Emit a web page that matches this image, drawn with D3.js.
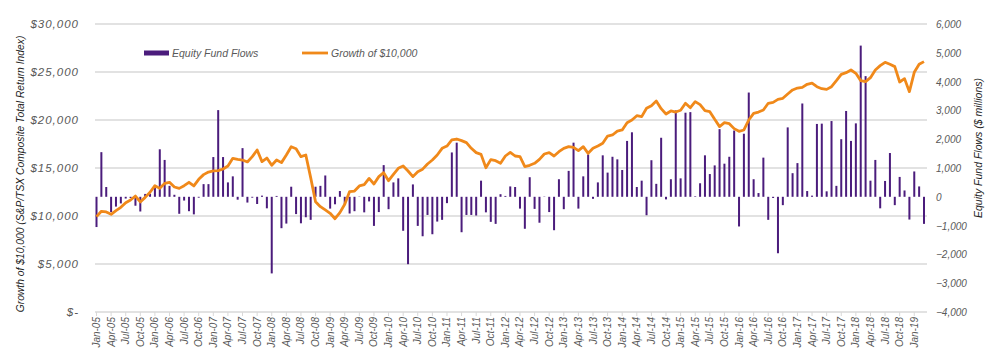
<!DOCTYPE html>
<html>
<head>
<meta charset="utf-8">
<script src="https://cdn.jsdelivr.net/npm/d3@7"></script>
<style>
	body { margin: 0; background: #fff; }
	svg { display: block; font-family: "Liberation Sans", Arial, sans-serif; }
	.grid line { stroke: #d9d9d9; stroke-width: 1.5; }
	.lbl { fill: #595959; font-style: italic; }
</style>
</head>
<body>
<div id="chart"></div>
<script>
// monthly equity fund flows, $ millions (Jan-05 .. Mar-19)
var flows = [
	-1050, 1550, 340, -530, -340, -230, -60, -40, -310, -510, 100, 100,
	320, 1650, 1280, 380, 70, -590, -130, -500, -610, -30, 440, 440,
	1380, 3010, 1380, 500, 710, -100, 1690, -200, -30, -250, 40, -400,
	-2660, 30, -1090, -930, 350, -600, -920, -710, -800, 350, 380, 740,
	-410, -260, 200, -260, -580, -500, 10, -540, -160, -1010, -530, 1100,
	-430, 500, 640, -1180, -2340, 430, -1010, -1370, -630, -1300, -860, -800,
	-220, 1540, 1880, -1230, -630, -630, -650, 560, -540, -870, -940, 90,
	30, 360, 340, -410, -1110, 680, -420, -900, 10, -530, -1160, 610,
	-430, 900, 1880, -410, 710, 1470, -70, 500, 1440, 840, 1390, 1300,
	930, 1940, 2240, 340, 560, -640, 1270, 450, 2050, -90, 610, 3000,
	640, 2920, 2940, 20, 470, 1440, 790, 1090, 2350, 1150, 1390, 2300,
	-1030, 2190, 3620, 610, 130, 1360, -800, -40, -1960, -290, 2410, 820,
	1170, 3240, 200, 40, 2530, 2540, 190, 2630, 380, 2000, 2980, 1940,
	2550, 5250, 4190, 560, 1280, -400, 550, 1520, -290, 690, 220, -790,
	880, 360, -940
];
// growth of $10,000 in S&P/TSX Composite TR
var growth = [
	9930, 10490, 10420, 10170, 10560, 10900, 11390, 11670, 12080, 11460, 11940, 12470,
	13160, 12880, 13400, 13510, 13020, 12880, 13160, 13510, 13130, 13820, 14310, 14580,
	14690, 14720, 14900, 15210, 16010, 15900, 15830, 15630, 16180, 16875, 15660, 16040,
	15280, 15830, 15560, 16350, 17220, 17010, 16180, 16350, 14000, 11490, 10970, 10630,
	10280, 9720, 10350, 11220, 12540, 12600, 13130, 13260, 13920, 13330, 14100, 14510,
	13680, 14340, 14970, 15210, 14690, 14100, 14620, 14880, 15420, 15830, 16350, 17050,
	17290, 17920, 18020, 17850, 17640, 17050, 16600, 16420, 15030, 15870, 15760, 15490,
	16250, 16630, 16250, 16180, 15140, 15280, 15490, 15900, 16460, 16600, 16250, 16700,
	17050, 17220, 17150, 16810, 17220, 16530, 17050, 17290, 17570, 18330, 18440, 18850,
	18960, 19720, 20000, 20450, 20350, 21220, 21490, 21980, 21180, 20630, 20940, 20830,
	21010, 21740, 21280, 21910, 21600, 20970, 20870, 20070, 19310, 19720, 19620, 19100,
	18820, 18960, 20000, 20690, 20830, 21040, 21740, 21840, 22150, 22260, 22710, 23130,
	23330, 23400, 23720, 23850, 23470, 23260, 23190, 23470, 24100, 24760, 24930, 25210,
	24860, 24100, 23990, 24410, 25210, 25660, 26010, 25800, 25560, 23960, 24310, 22950,
	24970, 25800, 26080
];
var leftTicks = [0, 5000, 10000, 15000, 20000, 25000, 30000];
var rightTicks = [-4000, -3000, -2000, -1000, 0, 1000, 2000, 3000, 4000, 5000, 6000];

var fmtMonth = d3.timeFormat("%b-%y");
var months = d3.timeMonth.range(new Date(2005, 0, 1), new Date(2019, 3, 1)).map(fmtMonth);

var width = 1000, height = 361;
var svg = d3.select("#chart").append("svg")
	.attr("width", width).attr("height", height);

var x = d3.scalePoint().domain(months).range([96.5, 924]);
var yL = d3.scaleLinear().domain([0, 30000]).range([312, 24]);
var yR = d3.scaleLinear().domain([-4000, 6000]).range([312, 24]);

// gridlines
svg.append("g").attr("class", "grid")
	.selectAll("line").data(leftTicks).enter().append("line")
	.attr("x1", 95).attr("x2", 927)
	.attr("y1", function (d) { return yL(d); })
	.attr("y2", function (d) { return yL(d); });

// left axis labels
var fmtL = d3.format(",");
svg.append("g").selectAll("text").data(leftTicks).enter().append("text")
	.attr("class", "lbl")
	.attr("x", 79).attr("y", function (d) { return yL(d) + 4; })
	.attr("text-anchor", "end")
	.style("font-size", "11.5px").style("letter-spacing", "1px")
	.text(function (d) { return d == 0 ? "$-" : "$" + fmtL(d); });

// right axis labels
svg.append("g").selectAll("text").data(rightTicks).enter().append("text")
	.attr("class", "lbl")
	.attr("x", 936).attr("y", function (d) { return yR(d) + 4; })
	.style("font-size", "10px")
	.text(function (d) { return fmtL(d); });

// x axis ticks and labels
var shown = months.filter(function (d, i) { return i % 3 == 0; });
svg.append("g").selectAll("line").data(shown).enter().append("line")
	.attr("x1", function (d) { return x(d); }).attr("x2", function (d) { return x(d); })
	.attr("y1", 312).attr("y2", 316)
	.attr("stroke", "#d9d9d9").attr("stroke-width", 1);
svg.append("g").selectAll("text").data(shown).enter().append("text")
	.attr("class", "lbl")
	.attr("transform", function (d) { return "translate(" + (x(d) + 3.5) + ",317) rotate(-90)"; })
	.attr("text-anchor", "end")
	.style("font-size", "10px")
	.text(function (d) { return d; });

// bars
svg.append("g").selectAll("rect").data(flows).enter().append("rect")
	.attr("x", function (d, i) { return x(months[i]) - 1; })
	.attr("width", 2)
	.attr("y", function (d) { return Math.min(yR(d), yR(0)); })
	.attr("height", function (d) { return Math.abs(yR(d) - yR(0)); })
	.attr("fill", "#4b1c7c");

// growth line
var line = d3.line()
	.x(function (d, i) { return x(months[i]); })
	.y(function (d) { return yL(d); });
svg.append("path").datum(growth)
	.attr("d", line)
	.attr("fill", "none")
	.attr("stroke", "#f0891a")
	.attr("stroke-width", 2.8)
	.attr("stroke-linejoin", "round");

// legend
svg.append("rect").attr("x", 144).attr("y", 50.5).attr("width", 25).attr("height", 5).attr("fill", "#4b1c7c");
svg.append("text").attr("class", "lbl").attr("x", 172).attr("y", 57)
	.style("font-size", "10.5px").text("Equity Fund Flows");
svg.append("line").attr("x1", 302).attr("x2", 328).attr("y1", 53).attr("y2", 53)
	.attr("stroke", "#f0891a").attr("stroke-width", 2.8);
svg.append("text").attr("class", "lbl").attr("x", 331).attr("y", 57)
	.style("font-size", "10.5px").text("Growth of $10,000");

// axis titles
svg.append("text")
	.attr("transform", "translate(24,174) rotate(-90)")
	.attr("text-anchor", "middle")
	.style("font-size", "10.3px").style("font-style", "italic").attr("fill", "#222")
	.text("Growth of $10,000 (S&P/TSX Composite Total Return Index)");
svg.append("text")
	.attr("transform", "translate(982,148) rotate(-90)")
	.attr("text-anchor", "middle")
	.style("font-size", "10.5px").style("font-style", "italic").attr("fill", "#222")
	.text("Equity Fund Flows ($ millions)");
</script>
</body>
</html>
